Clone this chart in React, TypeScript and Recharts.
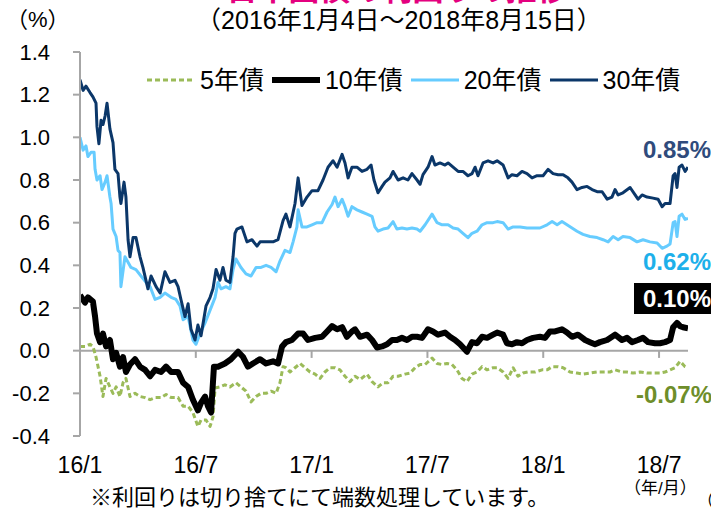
import React from 'react';
import { LineChart, Line, XAxis, YAxis, ReferenceLine } from 'recharts';

// x = months since 2016/1 (2016/1/4 .. 2018/8/15)
const xTickMonths = [0, 6, 12, 18, 24, 30];
const xTickLabels = ['16/1', '16/7', '17/1', '17/7', '18/1', '18/7'];
const yTicks = [-0.4, -0.2, 0, 0.2, 0.4, 0.6, 0.8, 1.0, 1.2, 1.4];

const s5: [number, number][] = [
  [0,0.02],[0.26,0.02],[0.52,0.03],[0.67,0.02],[0.83,-0.03],[1.04,-0.12],[1.19,-0.215],[1.35,-0.13],[1.55,-0.17],[1.71,-0.20],[1.87,-0.17],[2.07,-0.215],[2.23,-0.15],[2.38,-0.13],[2.59,-0.215],[2.85,-0.20],[3.11,-0.215],[3.37,-0.22],[3.63,-0.23],[3.89,-0.22],[4.20,-0.22],[4.46,-0.205],[4.72,-0.22],[5.08,-0.22],[5.34,-0.26],[5.60,-0.26],[5.85,-0.29],[6.11,-0.355],[6.27,-0.325],[6.53,-0.325],[6.74,-0.355],[6.89,-0.31],[7.00,-0.175],[7.25,-0.17],[7.51,-0.16],[7.77,-0.17],[8.08,-0.15],[8.34,-0.17],[8.60,-0.19],[8.86,-0.24],[9.12,-0.215],[9.38,-0.20],[9.64,-0.20],[9.90,-0.19],[10.16,-0.20],[10.36,-0.15],[10.52,-0.075],[10.67,-0.08],[10.88,-0.10],[11.14,-0.08],[11.40,-0.06],[11.66,-0.08],[11.92,-0.10],[12.18,-0.11],[12.44,-0.13],[12.69,-0.10],[12.95,-0.08],[13.21,-0.08],[13.47,-0.09],[13.73,-0.12],[13.99,-0.145],[14.25,-0.12],[14.51,-0.135],[14.87,-0.11],[15.13,-0.145],[15.44,-0.17],[15.70,-0.15],[15.96,-0.15],[16.22,-0.12],[16.48,-0.12],[16.84,-0.11],[17.10,-0.105],[17.36,-0.08],[17.62,-0.065],[17.88,-0.065],[18.24,-0.035],[18.50,-0.06],[18.76,-0.065],[19.02,-0.06],[19.27,-0.065],[19.53,-0.09],[19.79,-0.13],[20.05,-0.145],[20.31,-0.11],[20.57,-0.10],[20.83,-0.075],[21.09,-0.09],[21.40,-0.08],[21.61,-0.08],[21.92,-0.10],[22.18,-0.13],[22.44,-0.08],[22.69,-0.12],[22.95,-0.105],[23.21,-0.10],[23.58,-0.10],[23.94,-0.09],[24.20,-0.09],[24.46,-0.075],[24.77,-0.075],[25.03,-0.08],[25.39,-0.10],[25.75,-0.105],[26.06,-0.11],[26.42,-0.105],[26.79,-0.10],[27.10,-0.10],[27.46,-0.10],[27.72,-0.09],[28.08,-0.10],[28.34,-0.10],[28.65,-0.105],[29.02,-0.10],[29.38,-0.105],[29.69,-0.105],[30.05,-0.105],[30.31,-0.10],[30.57,-0.09],[30.83,-0.08],[31.09,-0.05],[31.35,-0.075],[31.50,-0.08],
];

const s10: [number, number][] = [
  [0,0.26],[0.26,0.225],[0.41,0.25],[0.67,0.23],[0.78,0.16],[0.88,0.08],[1.04,0.04],[1.19,0.08],[1.35,0.02],[1.55,0.05],[1.71,-0.04],[1.87,-0.01],[2.07,-0.075],[2.23,-0.03],[2.38,-0.10],[2.59,-0.065],[2.85,-0.04],[3.11,-0.075],[3.37,-0.09],[3.63,-0.12],[3.89,-0.09],[4.20,-0.10],[4.46,-0.075],[4.72,-0.10],[5.08,-0.10],[5.34,-0.15],[5.60,-0.17],[5.85,-0.23],[6.11,-0.28],[6.27,-0.245],[6.48,-0.215],[6.63,-0.26],[6.79,-0.29],[6.94,-0.075],[7.15,-0.075],[7.51,-0.06],[7.82,-0.04],[8.19,-0.005],[8.45,-0.03],[8.70,-0.075],[8.96,-0.06],[9.33,-0.04],[9.64,-0.06],[10.00,-0.05],[10.26,-0.06],[10.47,0.02],[10.67,0.04],[10.98,0.05],[11.30,0.08],[11.56,0.08],[11.81,0.05],[12.18,0.06],[12.54,0.065],[12.80,0.09],[13.06,0.115],[13.32,0.10],[13.58,0.11],[13.83,0.065],[14.09,0.09],[14.25,0.10],[14.51,0.065],[14.87,0.075],[15.13,0.05],[15.39,0.015],[15.65,0.02],[15.91,0.03],[16.17,0.05],[16.42,0.05],[16.68,0.06],[16.94,0.05],[17.20,0.065],[17.46,0.065],[17.72,0.06],[18.03,0.10],[18.29,0.09],[18.55,0.075],[18.91,0.085],[19.17,0.065],[19.43,0.05],[19.69,0.03],[20.05,-0.005],[20.31,0.04],[20.57,0.035],[20.83,0.065],[21.09,0.06],[21.40,0.075],[21.61,0.085],[21.92,0.075],[22.12,0.035],[22.38,0.03],[22.64,0.04],[22.90,0.035],[23.16,0.05],[23.47,0.06],[23.83,0.065],[24.09,0.06],[24.35,0.09],[24.61,0.09],[24.97,0.10],[25.23,0.085],[25.49,0.065],[25.80,0.075],[26.17,0.05],[26.42,0.04],[26.68,0.03],[26.94,0.04],[27.31,0.05],[27.72,0.075],[28.08,0.05],[28.34,0.06],[28.60,0.04],[28.91,0.05],[29.17,0.06],[29.43,0.04],[29.79,0.035],[30.05,0.035],[30.31,0.04],[30.57,0.05],[30.73,0.11],[30.93,0.13],[31.09,0.115],[31.24,0.11],[31.50,0.105],
];

const s20: [number, number][] = [
  [0,1.00],[0.16,0.94],[0.31,0.96],[0.41,0.91],[0.57,0.93],[0.73,0.93],[0.78,0.85],[0.88,0.80],[1.04,0.82],[1.14,0.755],[1.30,0.79],[1.40,0.82],[1.55,0.72],[1.61,0.69],[1.71,0.57],[1.87,0.535],[1.97,0.47],[2.07,0.46],[2.12,0.30],[2.33,0.44],[2.64,0.39],[2.90,0.38],[3.16,0.35],[3.42,0.32],[3.63,0.30],[3.89,0.24],[4.15,0.25],[4.40,0.27],[4.72,0.25],[4.97,0.24],[5.18,0.21],[5.34,0.145],[5.60,0.16],[5.85,0.05],[6.01,0.03],[6.22,0.08],[6.48,0.13],[6.74,0.19],[7.00,0.25],[7.15,0.32],[7.31,0.29],[7.56,0.30],[7.77,0.29],[7.93,0.38],[8.08,0.43],[8.34,0.39],[8.60,0.36],[8.86,0.35],[9.12,0.39],[9.38,0.39],[9.64,0.40],[9.90,0.39],[10.16,0.37],[10.36,0.42],[10.62,0.47],[10.88,0.46],[11.04,0.51],[11.24,0.58],[11.30,0.66],[11.50,0.58],[11.76,0.58],[12.02,0.59],[12.28,0.60],[12.54,0.60],[12.80,0.65],[13.06,0.685],[13.21,0.72],[13.37,0.675],[13.58,0.71],[13.73,0.675],[13.89,0.63],[14.09,0.675],[14.35,0.66],[14.61,0.65],[14.87,0.64],[15.13,0.63],[15.28,0.58],[15.44,0.56],[15.70,0.57],[15.96,0.575],[16.22,0.605],[16.42,0.57],[16.68,0.575],[16.94,0.57],[17.20,0.575],[17.46,0.57],[17.62,0.56],[17.88,0.59],[18.24,0.64],[18.50,0.60],[18.76,0.59],[19.07,0.59],[19.33,0.575],[19.59,0.57],[19.84,0.55],[20.10,0.53],[20.31,0.55],[20.57,0.56],[20.83,0.59],[21.09,0.60],[21.40,0.60],[21.61,0.605],[21.92,0.60],[22.18,0.57],[22.44,0.58],[22.80,0.58],[23.16,0.575],[23.47,0.575],[23.83,0.575],[24.20,0.59],[24.46,0.605],[24.72,0.59],[24.97,0.605],[25.23,0.59],[25.49,0.575],[25.75,0.56],[26.06,0.545],[26.42,0.535],[26.79,0.53],[27.10,0.52],[27.36,0.51],[27.62,0.535],[27.88,0.52],[28.13,0.535],[28.50,0.53],[28.86,0.51],[29.17,0.52],[29.53,0.51],[29.90,0.505],[30.16,0.48],[30.41,0.49],[30.57,0.50],[30.73,0.60],[30.83,0.605],[30.93,0.535],[31.04,0.63],[31.19,0.64],[31.35,0.615],[31.50,0.62],
];

const s30: [number, number][] = [
  [0,1.27],[0.16,1.22],[0.31,1.24],[0.52,1.21],[0.67,1.19],[0.83,1.16],[0.88,1.05],[0.98,0.97],[1.09,1.08],[1.19,1.06],[1.30,1.10],[1.40,1.16],[1.55,1.04],[1.71,0.975],[1.81,0.85],[1.97,0.83],[2.07,0.72],[2.12,0.69],[2.28,0.79],[2.38,0.72],[2.49,0.52],[2.59,0.44],[2.75,0.53],[2.90,0.53],[3.11,0.44],[3.26,0.39],[3.52,0.29],[3.68,0.35],[3.94,0.30],[4.15,0.27],[4.40,0.37],[4.66,0.32],[4.92,0.33],[5.08,0.30],[5.23,0.24],[5.44,0.16],[5.60,0.22],[5.75,0.10],[5.96,0.05],[6.11,0.12],[6.27,0.07],[6.53,0.21],[6.74,0.25],[6.89,0.29],[7.05,0.38],[7.25,0.33],[7.41,0.39],[7.56,0.33],[7.77,0.32],[7.93,0.44],[8.03,0.55],[8.13,0.57],[8.39,0.58],[8.65,0.51],[8.91,0.52],[9.17,0.49],[9.33,0.51],[9.69,0.51],[10.00,0.51],[10.26,0.52],[10.52,0.61],[10.67,0.64],[10.88,0.58],[11.14,0.69],[11.30,0.81],[11.50,0.68],[11.76,0.72],[12.02,0.75],[12.33,0.75],[12.59,0.80],[12.85,0.86],[13.11,0.89],[13.32,0.86],[13.58,0.92],[13.73,0.88],[13.89,0.81],[14.09,0.86],[14.35,0.86],[14.61,0.84],[14.87,0.85],[15.08,0.87],[15.23,0.80],[15.44,0.74],[15.65,0.77],[15.80,0.79],[16.06,0.81],[16.22,0.84],[16.48,0.80],[16.74,0.81],[16.99,0.80],[17.20,0.83],[17.46,0.80],[17.62,0.78],[17.77,0.825],[18.03,0.86],[18.24,0.91],[18.39,0.87],[18.65,0.88],[18.91,0.87],[19.07,0.88],[19.33,0.86],[19.59,0.84],[19.84,0.84],[20.10,0.82],[20.31,0.83],[20.47,0.86],[20.62,0.82],[20.88,0.88],[21.14,0.89],[21.40,0.88],[21.61,0.89],[21.92,0.87],[22.18,0.81],[22.38,0.825],[22.64,0.82],[22.90,0.84],[23.16,0.83],[23.42,0.81],[23.68,0.82],[23.99,0.82],[24.25,0.85],[24.51,0.83],[24.77,0.825],[25.03,0.825],[25.28,0.81],[25.49,0.79],[25.75,0.755],[26.01,0.765],[26.27,0.77],[26.53,0.755],[26.79,0.745],[27.05,0.745],[27.31,0.71],[27.56,0.72],[27.72,0.755],[27.88,0.73],[28.13,0.74],[28.50,0.765],[28.76,0.73],[28.91,0.71],[29.12,0.73],[29.38,0.72],[29.69,0.715],[29.95,0.71],[30.16,0.675],[30.31,0.69],[30.57,0.69],[30.73,0.82],[30.83,0.83],[30.93,0.765],[31.04,0.86],[31.19,0.87],[31.35,0.84],[31.50,0.86],
];

const seriesNames = ['5年債', '10年債', '20年債', '30年債'];
const endLabels = ['-0.07%', '0.10%', '0.62%', '0.85%'];

const FONT = "'Liberation Sans', Arial, 'Noto Sans CJK JP', sans-serif";
const GRAY = '#A6A6A6';

const series = [
  { name: seriesNames[0], pts: s5, color: '#9BBB59', width: 3, dash: '5 3' },
  { name: seriesNames[1], pts: s10, color: '#000000', width: 6, dash: undefined },
  { name: seriesNames[2], pts: s20, color: '#66CCFF', width: 3, dash: undefined },
  { name: seriesNames[3], pts: s30, color: '#0B3769', width: 3, dash: undefined },
];

const toRows = (pts: [number, number][]) => pts.map(([t, v]) => ({ t, v }));

const abs = (o: React.CSSProperties): React.CSSProperties => ({
  position: 'absolute',
  fontFamily: FONT,
  whiteSpace: 'nowrap',
  ...o,
});

export default function App() {
  return (
    <div style={{ position: 'absolute', left: 0, top: 0, width: 711, height: 511, background: '#fff', overflow: 'hidden' }}>
      <div style={abs({ left: 0, width: 794, top: -26, fontSize: 31, lineHeight: '31px', fontWeight: 700, color: '#E4007F', textAlign: 'center' })}>
        日本国債の利回りの推移
      </div>
      <div style={abs({ left: 99, width: 600, top: 8, fontSize: 25, lineHeight: '25px', color: '#000', textAlign: 'center' })}>
        （2016年1月4日～2018年8月15日）
      </div>
      <div style={abs({ left: 6, top: 9, fontSize: 22, lineHeight: '22px', color: '#000' })}>（%）</div>

      <LineChart width={711} height={511} margin={{ top: 52, right: 23, bottom: 0, left: 0 }}>
        <XAxis
          dataKey="t"
          type="number"
          domain={[0, 31.5]}
          ticks={xTickMonths}
          interval={0}
          allowDataOverflow
          tickFormatter={(m: number) => xTickLabels[xTickMonths.indexOf(m)]}
          axisLine={false}
          tickLine={false}
          height={75}
          tickSize={6}
          tickMargin={15}
          tick={{ fontSize: 23, fill: '#000', fontFamily: FONT }}
        />
        <YAxis
          type="number"
          domain={[-0.4, 1.4]}
          ticks={yTicks}
          interval={0}
          width={80}
          allowDataOverflow
          axisLine={{ stroke: GRAY, strokeWidth: 2 }}
          tickLine={{ stroke: GRAY, strokeWidth: 2 }}
          tickSize={7}
          tickMargin={23}
          tickFormatter={(v: number) => v.toFixed(1)}
          tick={{ fontSize: 22, fill: '#000', fontFamily: FONT }}
        />
        <ReferenceLine y={0} stroke={GRAY} strokeWidth={2} />
        {xTickMonths.slice(1).map((m) => (
          <ReferenceLine key={m} segment={[{ x: m, y: 0 }, { x: m, y: -0.034 }]} stroke={GRAY} strokeWidth={2} />
        ))}
        {series.map((s) => (
          <Line
            key={s.name}
            name={s.name}
            data={toRows(s.pts)}
            dataKey="v"
            type="linear"
            stroke={s.color}
            strokeWidth={s.width}
            strokeDasharray={s.dash}
            strokeLinejoin="round"
            dot={false}
            activeDot={false}
            isAnimationActive={false}
          />
        ))}
      </LineChart>

      {/* legend */}
      <div style={abs({ left: 147, top: 67, display: 'flex', alignItems: 'center', fontSize: 25, lineHeight: '26px', color: '#000' })}>
        {series.map((s, i) => (
          <div key={s.name} style={{ display: 'flex', alignItems: 'center', marginRight: 8 }}>
            <svg width={48} height={10} style={{ marginRight: 5 }}>
              <line x1={0} y1={5} x2={48} y2={5} stroke={s.color} strokeWidth={i === 1 ? 6 : 3} strokeDasharray={s.dash} />
            </svg>
            <span>{s.name}</span>
          </div>
        ))}
      </div>

      {/* end labels */}
      <div style={abs({ left: 643, top: 138, fontSize: 24, lineHeight: '24px', fontWeight: 700, color: '#2F4B7C' })}>{endLabels[3]}</div>
      <div style={abs({ left: 643, top: 250, fontSize: 24, lineHeight: '24px', fontWeight: 700, color: '#1DB0EA' })}>{endLabels[2]}</div>
      <div style={abs({ left: 634, top: 283, width: 80, height: 31, background: '#000' })} />
      <div style={abs({ left: 643, top: 287, fontSize: 24, lineHeight: '24px', fontWeight: 700, color: '#fff' })}>{endLabels[1]}</div>
      <div style={abs({ left: 636, top: 383, fontSize: 24, lineHeight: '24px', fontWeight: 700, color: '#6E8E2A' })}>{endLabels[0]}</div>

      {/* footer */}
      <div style={abs({ left: 90, top: 487, fontSize: 22, lineHeight: '22px', color: '#000' })}>※利回りは切り捨てにて端数処理しています。</div>
      <div style={abs({ left: 624, top: 480, fontSize: 17, lineHeight: '17px', color: '#000' })}>（年/月）</div>
      <div style={abs({ left: 697, top: 493, fontSize: 17, lineHeight: '17px', color: '#000' })}>（</div>
    </div>
  );
}
